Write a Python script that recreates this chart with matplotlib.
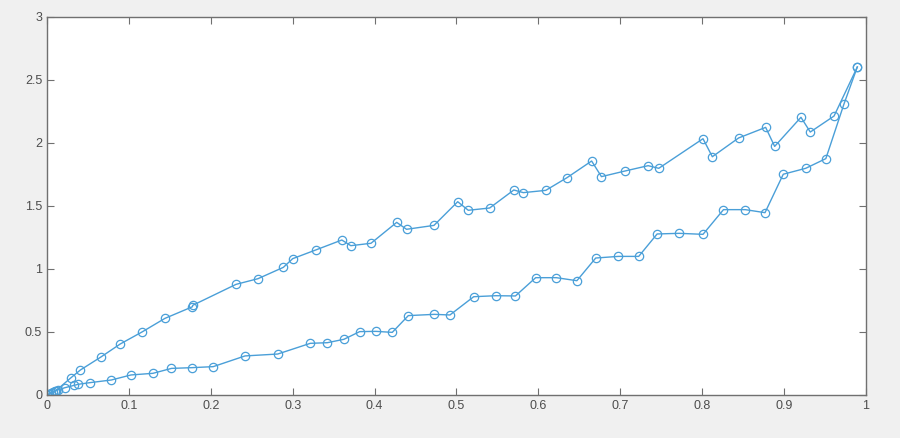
import matplotlib
matplotlib.use("Agg")
import matplotlib.pyplot as plt
from matplotlib.ticker import FuncFormatter

# upper branch
x_upper = [0.0, 0.003, 0.007, 0.011, 0.0293, 0.0407, 0.0655, 0.0895, 0.116, 0.144,
           0.1775, 0.178, 0.2308, 0.2576, 0.2886, 0.300, 0.329, 0.360, 0.371, 0.3956,
           0.427, 0.439, 0.4725, 0.5015, 0.5144, 0.5405, 0.570, 0.5816, 0.609, 0.635,
           0.665, 0.677, 0.706, 0.734, 0.747, 0.801, 0.8124, 0.8445, 0.8775, 0.8885,
           0.9206, 0.932, 0.961, 0.9894]
y_upper = [0.0, 0.01, 0.025, 0.035, 0.137, 0.198, 0.300, 0.405, 0.500, 0.608,
           0.700, 0.712, 0.878, 0.923, 1.013, 1.082, 1.153, 1.230, 1.185, 1.204,
           1.370, 1.315, 1.346, 1.534, 1.466, 1.484, 1.627, 1.606, 1.624, 1.725,
           1.857, 1.733, 1.778, 1.820, 1.799, 2.034, 1.891, 2.040, 2.124, 1.973,
           2.204, 2.087, 2.214, 2.603]

# lower branch
x_lower = [0.0, 0.005, 0.010, 0.013, 0.022, 0.0334, 0.0383, 0.0525, 0.0786, 0.1026,
           0.1294, 0.152, 0.1775, 0.203, 0.2418, 0.2817, 0.3215, 0.3423, 0.3626, 0.3818,
           0.4017, 0.4216, 0.4412, 0.4729, 0.492, 0.521, 0.548, 0.572, 0.5967, 0.622,
           0.647, 0.670, 0.6976, 0.7225, 0.745, 0.772, 0.801, 0.826, 0.8526, 0.8767,
           0.899, 0.9264, 0.951, 0.973, 0.9894]
y_lower = [0.0, 0.015, 0.030, 0.040, 0.058, 0.077, 0.085, 0.098, 0.119, 0.159,
           0.172, 0.211, 0.217, 0.225, 0.310, 0.325, 0.410, 0.415, 0.442, 0.503,
           0.505, 0.497, 0.630, 0.640, 0.635, 0.780, 0.788, 0.786, 0.931, 0.931,
           0.907, 1.087, 1.100, 1.100, 1.278, 1.283, 1.275, 1.471, 1.471, 1.447,
           1.752, 1.799, 1.876, 2.307, 2.603]

line_color = "#4a9fd8"
axis_color = "#707070"

fig = plt.figure(figsize=(9, 4.38), dpi=100, facecolor="#f0f0f0")
ax = fig.add_axes([0.0522, 0.0982, 0.91, 0.863])
ax.set_facecolor("white")

ax.plot(x_upper, y_upper, "-o", color=line_color, lw=1.0, ms=6,
        mfc="none", mec=line_color, mew=0.9)
ax.plot(x_lower, y_lower, "-o", color=line_color, lw=1.0, ms=6,
        mfc="none", mec=line_color, mew=0.9)

ax.set_xlim(0, 1)
ax.set_ylim(0, 3)
ax.set_xticks([i / 10 for i in range(11)])
ax.set_yticks([i / 2 for i in range(7)])
fmt = FuncFormatter(lambda v, p: "%g" % round(v, 2))
ax.xaxis.set_major_formatter(fmt)
ax.yaxis.set_major_formatter(fmt)

for s in ax.spines.values():
    s.set_color(axis_color)
    s.set_linewidth(1.0)
ax.tick_params(direction="in", length=5, width=0.8, color=axis_color,
               labelcolor="#4d4d4d", labelsize=9, top=True, right=True)
for lab in ax.get_xticklabels() + ax.get_yticklabels():
    lab.set_fontfamily("Liberation Sans")

fig.savefig("out.png", dpi=100, facecolor=fig.get_facecolor())
